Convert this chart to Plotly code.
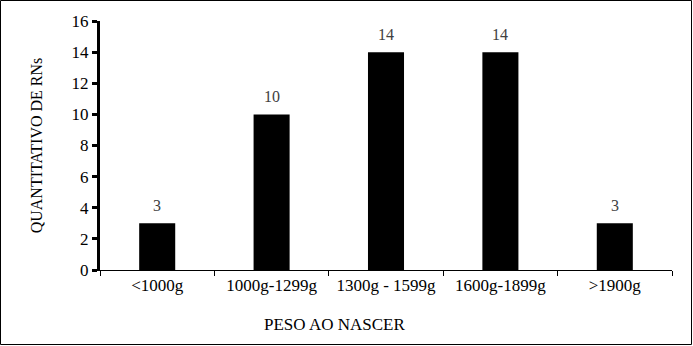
import plotly.graph_objects as go

# Birth weight classes and number of newborns in each
categorias = ["<1000g", "1000g-1299g", "1300g - 1599g", "1600g-1899g", ">1900g"]
quantidades = [3, 10, 14, 14, 3]
y_ticks = [0, 2, 4, 6, 8, 10, 12, 14, 16]

FONT = "Liberation Serif"

fig = go.Figure(
    go.Bar(
        x=categorias,
        y=quantidades,
        width=0.315,
        marker=dict(color="black", line=dict(width=0)),
        cliponaxis=False,
    )
)

W, H = 693, 346
L, R, T, B = 100, 21, 21, 76
pw, ph = W - L - R, H - T - B

def px(x):
    return (x - L) / pw

def py(y):
    return (H - B - y) / ph

# value labels above each bar
value_labels = [
    dict(
        x=c,
        y=v,
        xref="x",
        yref="y",
        text=str(v),
        showarrow=False,
        yanchor="bottom",
        yshift=7,
        font=dict(family=FONT, size=16, color="#404040"),
    )
    for c, v in zip(categorias, quantidades)
]

fig.update_layout(
    width=W,
    height=H,
    margin=dict(l=L, r=R, t=T, b=B),
    paper_bgcolor="white",
    plot_bgcolor="white",
    showlegend=False,
    font=dict(family=FONT, size=17, color="black"),
    xaxis=dict(
        type="category",
        showline=True,
        linecolor="black",
        linewidth=1,
        ticks="outside",
        tickson="boundaries",
        ticklen=5,
        tickwidth=1,
        tickcolor="black",
        showgrid=False,
        tickfont=dict(family=FONT, size=17, color="black"),
    ),
    yaxis=dict(
        range=[0, 16],
        tickvals=y_ticks,
        showline=True,
        linecolor="black",
        linewidth=3,
        ticks="outside",
        ticklen=5,
        tickwidth=3,
        tickcolor="black",
        showgrid=False,
        zeroline=False,
        tickfont=dict(family=FONT, size=17, color="black"),
        title=dict(text="QUANTITATIVO DE RNs", font=dict(family=FONT, size=16, color="black"), standoff=25),
    ),
    annotations=value_labels + [
        dict(
            text="PESO AO NASCER",
            xref="paper",
            yref="paper",
            x=px(334),
            y=py(324),
            xanchor="center",
            yanchor="middle",
            showarrow=False,
            font=dict(family=FONT, size=17, color="black"),
        )
    ],
    shapes=[
        dict(
            type="rect",
            xref="paper",
            yref="paper",
            x0=px(0.5),
            x1=px(691.5),
            y0=py(344.5),
            y1=py(0.5),
            line=dict(color="black", width=1),
            fillcolor="rgba(0,0,0,0)",
            layer="below",
        )
    ],
)

fig.write_html("out.html")
